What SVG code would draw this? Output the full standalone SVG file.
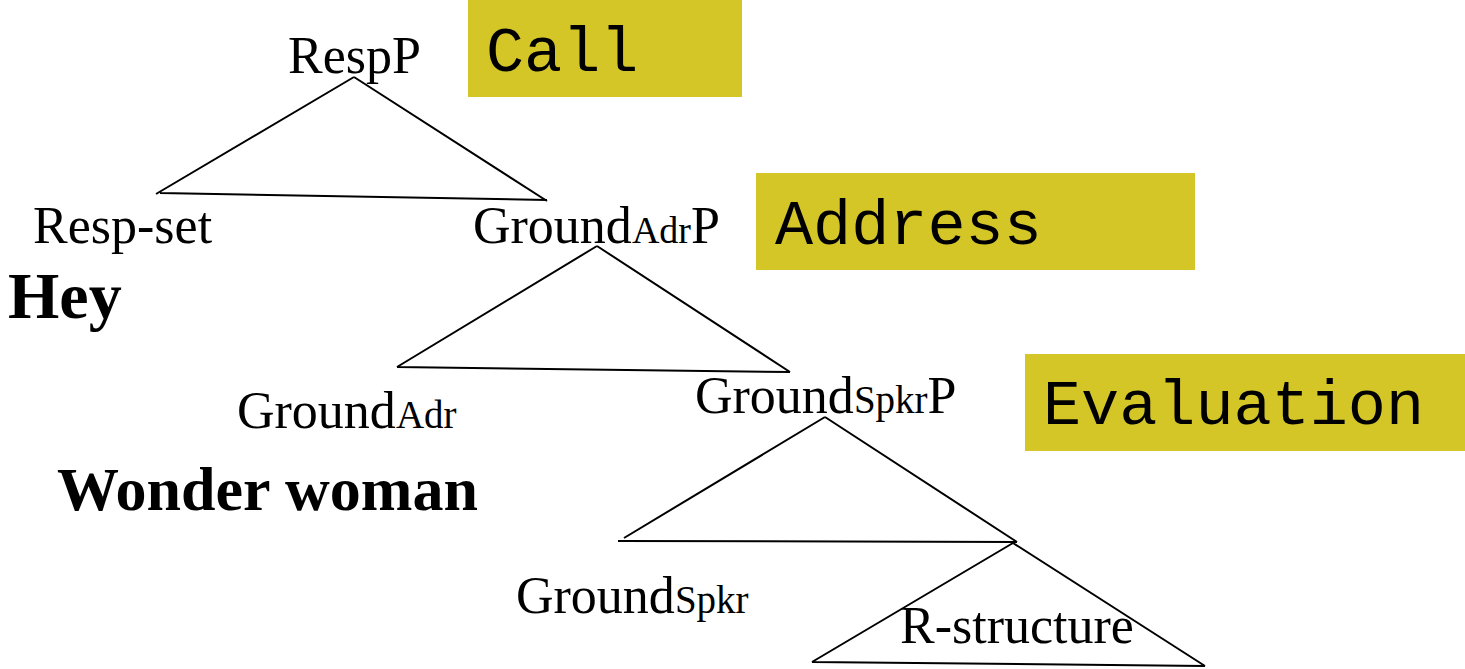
<svg xmlns="http://www.w3.org/2000/svg" width="1465" height="669" viewBox="0 0 1465 669">
<style>
.t{font-family:"Liberation Serif","Times New Roman",serif;font-size:52px;fill:#000}
.s{font-size:38px}
.b{font-family:"Liberation Serif","Times New Roman",serif;font-size:62px;font-weight:bold;fill:#000}
.m{font-family:"Liberation Mono","Courier New",monospace;font-size:63.5px;fill:#000}
.box{fill:#D5C628}
.ln{fill:none;stroke:#000;stroke-width:2;stroke-linejoin:miter}
</style>
<rect width="1465" height="669" fill="#fff"/>
<g id="connectors">
<path class="ln" d="M354,77 L156,194 M354,77 L547,201 M160,193 L547,200"/>
<path class="ln" d="M597,246 L397,367 M597,246 L790,372 M397,367 L790,372"/>
<path class="ln" d="M825,417 L624,538 M825,417 L1017,542 M618,541 L1017,542"/>
<path class="ln" d="M1013,543 L812,662 M1013,543 L1205,666 M812,662 L1205,666"/>
</g>
<g id="call"><rect class="box" x="468" y="0" width="274" height="97"/><text class="m" x="486" y="71">Call</text></g>
<g id="address"><rect class="box" x="756" y="173" width="439" height="97"/><text class="m" x="775" y="244">Address</text></g>
<g id="evaluation"><rect class="box" x="1025" y="354" width="440" height="97"/><text class="m" x="1043" y="424">Evaluation</text></g>
<g id="RespP"><text class="t" x="288" y="73">RespP</text></g>
<g id="Resp-set"><text class="t" x="33" y="243">Resp-set</text></g>
<g id="GroundAdrP"><text class="t" x="473" y="243">Ground<tspan class="s">Adr</tspan>P</text></g>
<g id="Hey"><text class="b" x="8" y="318" style="font-size:66px">Hey</text></g>
<g id="GroundAdr"><text class="t" x="237" y="428">Ground<tspan class="s" style="font-size:39px">Adr</tspan></text></g>
<g id="WonderWoman"><text class="b" x="57" y="510">Wonder woman</text></g>
<g id="GroundSpkrP"><text class="t" x="695" y="413">Ground<tspan class="s" style="font-size:39px">Spkr</tspan>P</text></g>
<g id="GroundSpkr"><text class="t" x="516" y="613">Ground<tspan class="s" style="font-size:39px">Spkr</tspan></text></g>
<g id="R-structure"><text class="t" x="900" y="643">R-structure</text></g>
</svg>
